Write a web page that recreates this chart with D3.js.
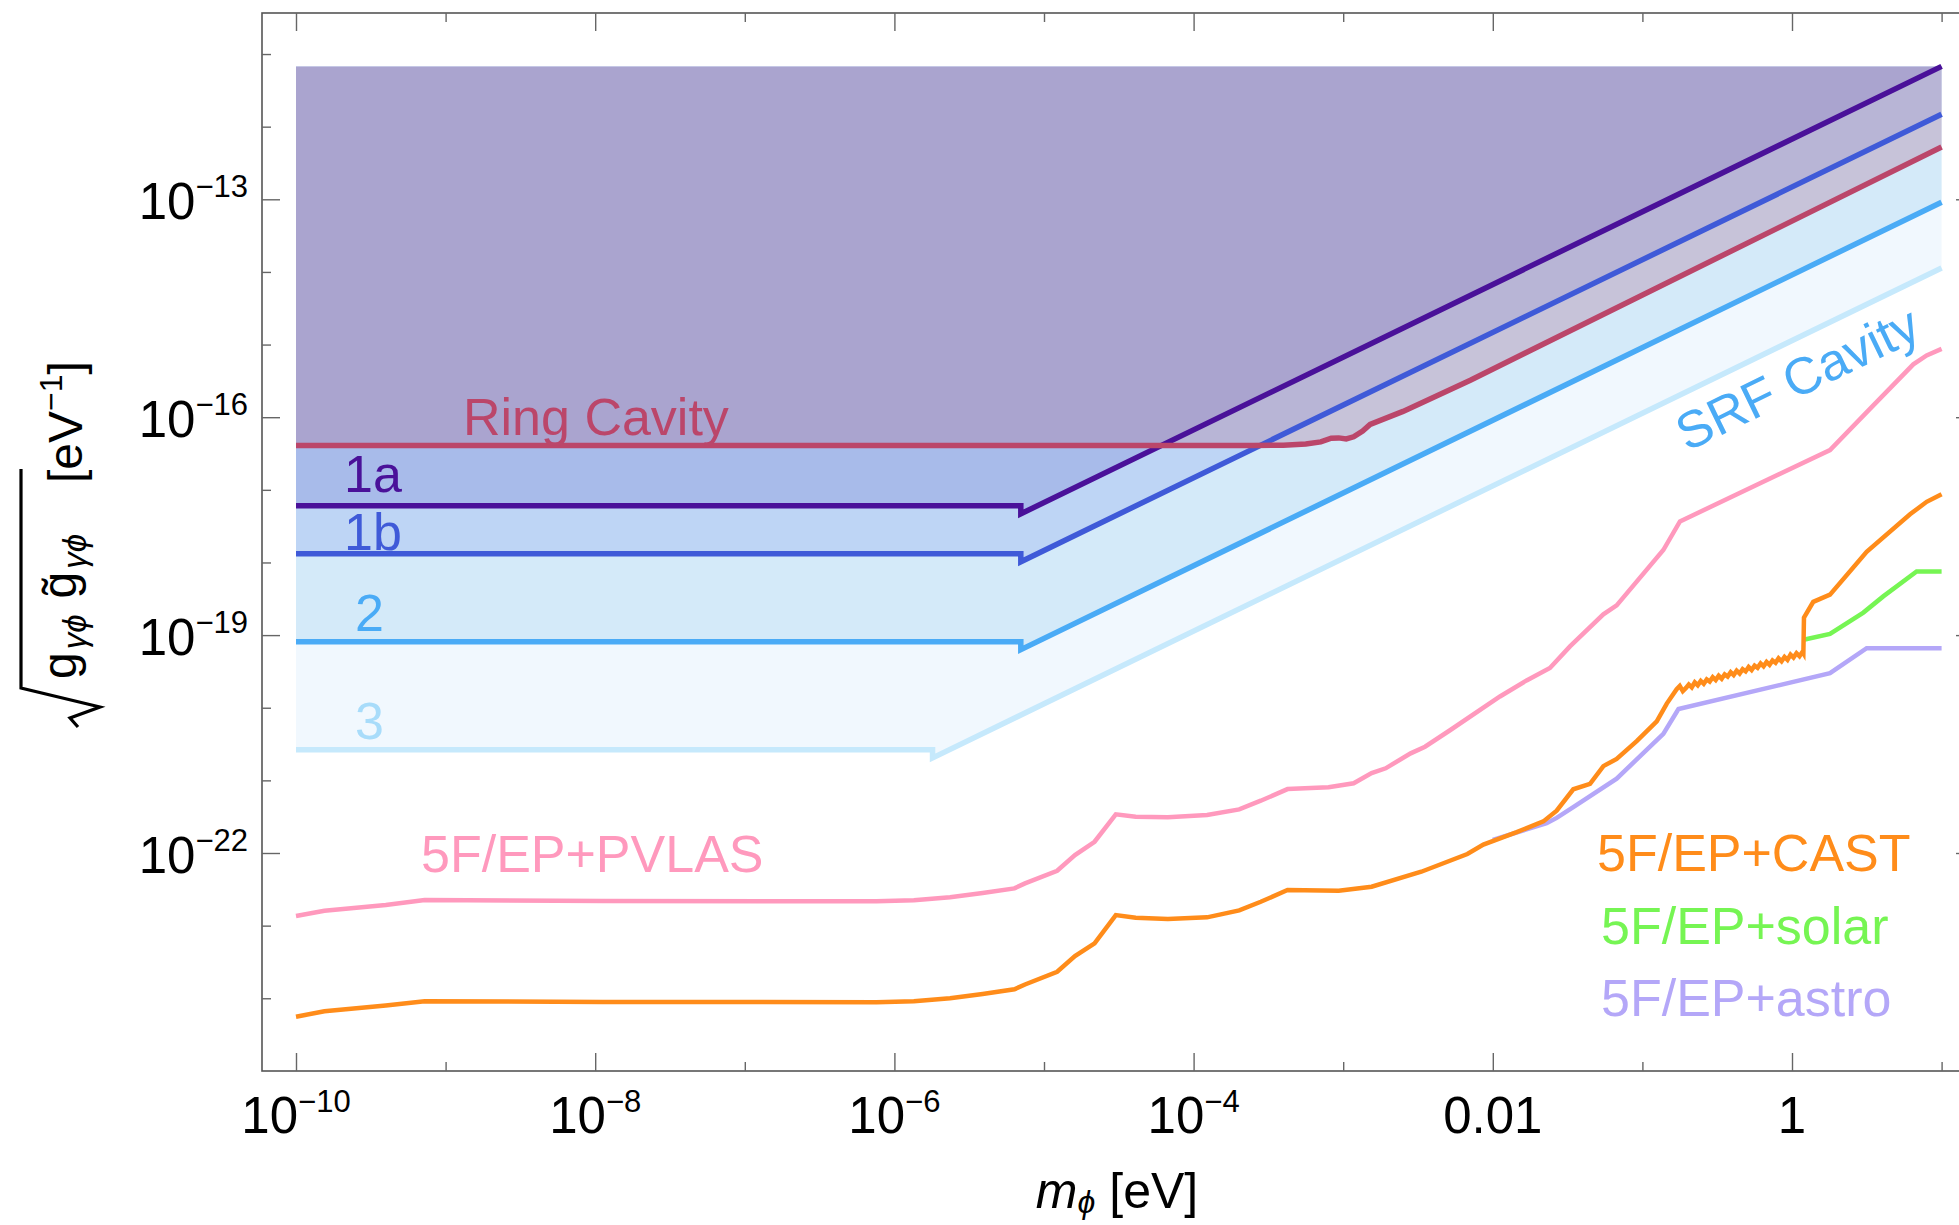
<!DOCTYPE html>
<html lang="en">
<head>
<meta charset="UTF-8">
<title>Coupling limits</title>
<script src="https://d3js.org/d3.v7.min.js"></script>
<style>
    body { margin: 0; background: #fff; }
    svg { font-family: "Liberation Sans", Arial, "DejaVu Sans", sans-serif; }
    .tick line { stroke: #666; stroke-width: 1.4; }
    .frame { fill: none; stroke: #555; stroke-width: 1.6; }
    .curve { fill: none; }
</style>
</head>
<body>
<div id="chart"></div>
<script>

    // all values are log10(m / eV) and log10(coupling / eV^-1)
    var xMajor = [-10, -8, -6, -4, -2, 0];
    var xMinor = [-9, -7, -5, -3, -1, 1];
    var xTickBase = ["10", "10", "10", "10", "0.01", "1"];
    var xTickExp = ["\u221210", "\u22128", "\u22126", "\u22124", "", ""];

    var yMajor = [-13, -16, -19, -22];
    var yMinor = [-11, -12, -14, -15, -17, -18, -20, -21, -23, -24];
    var yTickExp = ["\u221213", "\u221216", "\u221219", "\u221222"];

    var fillTop = -11.17;

    var line1a = [[-10, -17.22], [-5.155, -17.22], [-5.155, -17.33], [1, -11.17]];
    var line1b = [[-10, -17.88], [-5.155, -17.88], [-5.155, -17.99], [1, -11.83]];
    var line2 = [[-10, -19.09], [-5.155, -19.09], [-5.155, -19.20], [1, -13.04]];
    var line3 = [[-10, -20.58], [-5.745, -20.58], [-5.745, -20.69], [1, -13.945]];

    var ringCavity = [[-10, -16.39], [-3.6, -16.39], [-3.4, -16.385], [-3.25, -16.37], [-3.15, -16.34],
        [-3.08, -16.29], [-3.03, -16.285], [-2.98, -16.30], [-2.93, -16.27], [-2.87, -16.19],
        [-2.82, -16.10], [-2.6, -15.92], [-2.15, -15.49], [1, -12.28]];

    var pvlas = [[-10, -22.868], [-9.81, -22.795], [-9.4, -22.716], [-9.14, -22.647], [-7.95, -22.66],
        [-6.12, -22.665], [-5.87, -22.65], [-5.628, -22.61], [-5.41, -22.55], [-5.198, -22.487],
        [-5.127, -22.418], [-4.912, -22.244], [-4.793, -22.028], [-4.662, -21.845], [-4.52, -21.468],
        [-4.387, -21.50], [-4.172, -21.509], [-3.91, -21.477], [-3.695, -21.40], [-3.551, -21.28],
        [-3.372, -21.12], [-3.098, -21.096], [-2.93, -21.04], [-2.81, -20.90], [-2.716, -20.834],
        [-2.549, -20.628], [-2.453, -20.537], [-2.286, -20.31], [-1.952, -19.845], [-1.774, -19.624],
        [-1.618, -19.452], [-1.484, -19.156], [-1.261, -18.714], [-1.172, -18.591], [-0.86, -17.829],
        [-0.749, -17.435], [0.254, -16.452], [0.521, -15.886], [0.811, -15.272], [0.9, -15.149],
        [1, -15.06]];

    var cast = [[-10, -24.254], [-9.81, -24.18], [-9.4, -24.10], [-9.14, -24.04], [-7.95, -24.05],
        [-6.12, -24.055], [-5.87, -24.04], [-5.628, -24.0], [-5.41, -23.94], [-5.198, -23.877],
        [-5.127, -23.81], [-4.912, -23.635], [-4.793, -23.42], [-4.662, -23.244], [-4.52, -22.854],
        [-4.387, -22.89], [-4.172, -22.909], [-3.91, -22.886], [-3.695, -22.79], [-3.551, -22.671],
        [-3.372, -22.51], [-3.03, -22.52], [-2.81, -22.465], [-2.478, -22.258], [-2.17, -22.014],
        [-2.063, -21.885], [-1.84, -21.713], [-1.662, -21.565], [-1.573, -21.418], [-1.462, -21.123],
        [-1.35, -21.049], [-1.261, -20.804], [-1.172, -20.705], [-1.038, -20.46], [-0.904, -20.188],
        [-0.837, -19.943], [-0.771, -19.746],
        [-0.75, -19.70], [-0.73, -19.77], [-0.71, -19.73], [-0.69, -19.68], [-0.67, -19.72],
        [-0.65, -19.65], [-0.63, -19.69], [-0.61, -19.63], [-0.59, -19.67], [-0.57, -19.61],
        [-0.55, -19.64], [-0.53, -19.58], [-0.51, -19.62], [-0.49, -19.56], [-0.47, -19.60],
        [-0.45, -19.54], [-0.43, -19.57], [-0.41, -19.51], [-0.39, -19.55], [-0.37, -19.49],
        [-0.35, -19.53], [-0.33, -19.47], [-0.31, -19.50], [-0.29, -19.44], [-0.27, -19.48],
        [-0.25, -19.42], [-0.23, -19.45], [-0.21, -19.39], [-0.19, -19.43], [-0.17, -19.37],
        [-0.15, -19.41], [-0.13, -19.35], [-0.11, -19.38], [-0.09, -19.32], [-0.07, -19.36],
        [-0.05, -19.30], [-0.03, -19.34], [-0.01, -19.27], [0.01, -19.31], [0.03, -19.25],
        [0.05, -19.29], [0.07, -19.23], [0.076, -19.25],
        [0.08, -18.76], [0.142, -18.542], [0.254, -18.443], [0.499, -17.853],
        [0.789, -17.337], [0.9, -17.165], [1, -17.06]];

    var solar = [[0.085, -19.06], [0.254, -18.984], [0.477, -18.69], [0.61, -18.467], [0.833, -18.123], [1, -18.123]];

    var astro = [[-2.0, -21.82], [-1.64, -21.59], [-1.573, -21.517], [-1.462, -21.368], [-1.172, -20.976],
        [-0.86, -20.36], [-0.759, -20.017], [0.254, -19.525], [0.499, -19.18], [1, -19.18]];

    var W = 1959, H = 1225;
    var frame = {left: 262, right: 1974, top: 13, bottom: 1071};

    function p10(v) { return Math.pow(10, v); }

    var x = d3.scaleLog().domain([1e-10, 10]).range([296, 1941.6]);
    var y = d3.scaleLog().domain([1e-13, 1e-22]).range([199.3, 853]);

    var svg = d3.select("#chart").append("svg")
        .attr("width", W)
        .attr("height", H);

    // filled exclusion bands (to the top)
    var area = d3.area()
        .x(function(d) { return x(p10(d[0])); })
        .y0(y(p10(fillTop)))
        .y1(function(d) { return y(p10(d[1])); });

    var fills = [
        {data: line3, color: "rgb(215,235,252)"},
        {data: line2, color: "rgb(158,208,240)"},
        {data: line1b, color: "rgb(149,174,238)"},
        {data: line1a, color: "rgb(130,139,214)"},
        {data: ringCavity, color: "rgb(175,124,157)"}
    ];
    fills.forEach(function(f) {
        svg.append("path")
            .attr("d", area(f.data))
            .attr("fill", f.color)
            .attr("fill-opacity", 0.35);
    });

    var line = d3.line()
        .x(function(d) { return x(p10(d[0])); })
        .y(function(d) { return y(p10(d[1])); });

    var curves = [
        {data: line3, color: "#c6e9fc", w: 5.5},
        {data: line2, color: "#4aabf6", w: 5.5},
        {data: line1b, color: "#3f5ad8", w: 5.5},
        {data: line1a, color: "#4a1199", w: 5.5},
        {data: ringCavity, color: "#bb466a", w: 5.5},
        {data: astro, color: "#b4a7f8", w: 4.5},
        {data: solar, color: "#76f553", w: 4.5},
        {data: pvlas, color: "#ff99bd", w: 4.5},
        {data: cast, color: "#ff8c1a", w: 4.5}
    ];
    curves.forEach(function(c) {
        svg.append("path")
            .attr("class", "curve")
            .attr("d", line(c.data))
            .attr("stroke", c.color)
            .attr("stroke-width", c.w);
    });

    // frame and ticks
    svg.append("rect")
        .attr("class", "frame")
        .attr("x", frame.left)
        .attr("y", frame.top)
        .attr("width", frame.right - frame.left)
        .attr("height", frame.bottom - frame.top);

    function ticks(axis, vals, size, tx, ty) {
        var g = svg.append("g")
            .attr("transform", "translate(" + tx + "," + ty + ")")
            .call(axis.tickValues(vals.map(p10)).tickSize(-size).tickFormat(""));
        g.select(".domain").remove();
    }
    ticks(d3.axisBottom(x), xMajor, 18, 0, frame.bottom);
    ticks(d3.axisBottom(x), xMinor, 9, 0, frame.bottom);
    ticks(d3.axisTop(x), xMajor, 18, 0, frame.top);
    ticks(d3.axisTop(x), xMinor, 9, 0, frame.top);
    ticks(d3.axisLeft(y), yMajor, 18, frame.left, 0);
    ticks(d3.axisLeft(y), yMinor, 9, frame.left, 0);
    ticks(d3.axisRight(y), yMajor, 18, frame.right, 0);
    ticks(d3.axisRight(y), yMinor, 9, frame.right, 0);

    // tick labels
    xMajor.forEach(function(v, i) {
        var t = svg.append("text")
            .attr("x", x(p10(v)))
            .attr("y", 1133)
            .attr("text-anchor", "middle")
            .style("font-size", "51px");
        t.append("tspan").text(xTickBase[i]);
        if (xTickExp[i]) {
            t.append("tspan").attr("dy", -21).style("font-size", "31px").text(xTickExp[i]);
        }
    });
    yMajor.forEach(function(v, i) {
        var t = svg.append("text")
            .attr("x", 248)
            .attr("y", y(p10(v)) + 20)
            .attr("text-anchor", "end")
            .style("font-size", "51px");
        t.append("tspan").text("10");
        t.append("tspan").attr("dy", -22).style("font-size", "31px").text(yTickExp[i]);
    });

    // axis titles
    var xt = svg.append("text")
        .attr("x", 1117)
        .attr("y", 1208)
        .attr("text-anchor", "middle")
        .style("font-size", "50px");
    xt.append("tspan").style("font-style", "italic").text("m");
    xt.append("tspan").attr("dy", 5).style("font-size", "32px").style("font-style", "italic").text("\u03d5");
    xt.append("tspan").attr("dy", -5).attr("dx", 14).text("[eV]");

    var yt = svg.append("g").attr("transform", "translate(82,727) rotate(-90)");
    yt.append("path")
        .attr("d", "M0,-4L9,-12L20,18L39,-61L258,-61")
        .attr("fill", "none")
        .attr("stroke", "#000")
        .attr("stroke-width", 3.2)
        .attr("stroke-linejoin", "miter");
    var rad = yt.append("text").attr("x", 48).attr("y", -6).style("font-size", "48px");
    rad.append("tspan").text("g");
    rad.append("tspan").attr("dy", 10).attr("dx", 3).style("font-size", "33px").style("font-style", "italic").text("\u03b3\u03d5");
    rad.append("tspan").attr("dy", -10).attr("dx", 16).text("g\u0303");
    rad.append("tspan").attr("dy", 10).attr("dx", 3).style("font-size", "33px").style("font-style", "italic").text("\u03b3\u03d5");
    var unit = yt.append("text").attr("x", 244).attr("y", 0).style("font-size", "48px");
    unit.append("tspan").text("[eV");
    unit.append("tspan").attr("dy", -20).style("font-size", "32px").text("\u22121");
    unit.append("tspan").attr("dy", 20).text("]");

    // curve labels
    var labels = [
        {text: "Ring Cavity", x: 463, y: 435, color: "#bb466a"},
        {text: "1a", x: 344, y: 492, color: "#4a1199"},
        {text: "1b", x: 344, y: 550, color: "#3f5ad8"},
        {text: "2", x: 355, y: 631, color: "#4aabf6"},
        {text: "3", x: 355, y: 739, color: "#a8dcfa"},
        {text: "5F/EP+PVLAS", x: 421, y: 872, color: "#ff99bd"},
        {text: "5F/EP+CAST", x: 1597, y: 871, color: "#ff8c1a"},
        {text: "5F/EP+solar", x: 1601, y: 944, color: "#76f553"},
        {text: "5F/EP+astro", x: 1601, y: 1016, color: "#b4a7f8"}
    ];
    labels.forEach(function(l) {
        svg.append("text")
            .attr("x", l.x)
            .attr("y", l.y)
            .attr("fill", l.color)
            .style("font-size", "52px")
            .text(l.text);
    });

    svg.append("text")
        .attr("transform", "translate(1687,452) rotate(-25.9)")
        .attr("fill", "#4aabf6")
        .style("font-size", "52px")
        .text("SRF Cavity");

</script>
</body>
</html>
